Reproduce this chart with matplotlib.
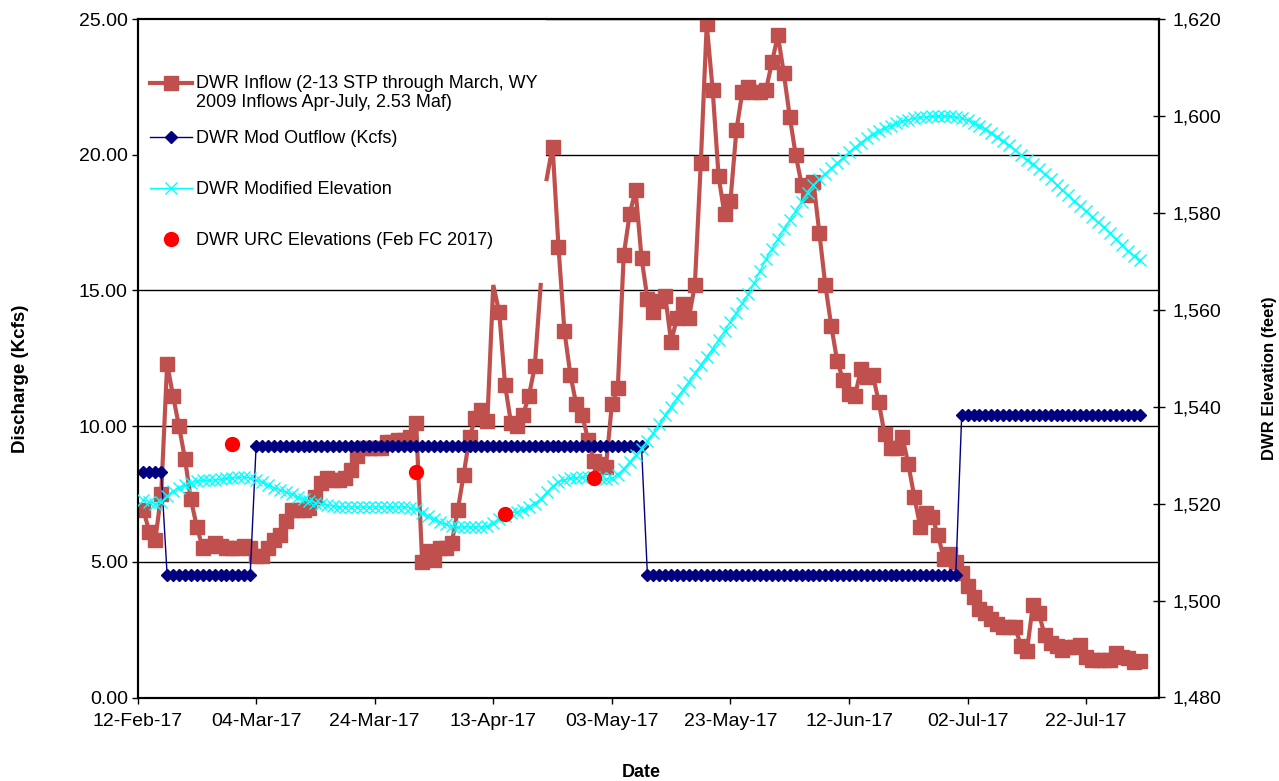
import numpy as np
import pandas as pd
import matplotlib
matplotlib.use('Agg')
import matplotlib.pyplot as plt
import matplotlib.dates as mdates
from matplotlib.ticker import FormatStrFormatter, FuncFormatter, MultipleLocator
from matplotlib.legend_handler import HandlerLine2D
from matplotlib.patches import Rectangle

plt.rcParams['font.family'] = ['Liberation Sans', 'DejaVu Sans']

# ---------------- data ----------------
start_date = '2017-02-13'   # first daily value

inflow = [
    6.9, 6.1, 5.8, 7.5, 12.3, 11.1, 10.0, 8.8, 7.3, 6.3,
    5.5, 5.6, 5.7, 5.6, 5.5, 5.5, 5.5, 5.6, 5.5, 5.2,
    5.2, 5.5, 5.8, 6.0, 6.5, 6.9, 6.9, 6.9, 7.0, 7.4,
    7.9, 8.1, 8.0, 8.0, 8.1, 8.4, 8.9, 9.2, 9.2, 9.2,
    9.2, 9.4, 9.4, 9.5, 9.5, 9.6, 10.1, 5.0, 5.4, 5.05,
    5.5, 5.5, 5.7, 6.9, 8.2, 9.6, 10.3, 10.6, 10.2, 15.2,
    14.2, 11.5, 10.1, 10.0, 10.4, 11.1, 12.2, 15.2, 19.1, 20.3,
    16.6, 13.5, 11.9, 10.8, 10.4, 9.5, 8.7, 8.6, 8.5, 10.8,
    11.4, 16.3, 17.8, 18.7, 16.2, 14.7, 14.2, 14.6, 14.8, 13.1,
    14.0, 14.5, 14.0, 15.2, 19.7, 24.8, 22.4, 19.2, 17.8, 18.3,
    20.9, 22.3, 22.5, 22.3, 22.3, 22.4, 23.4, 24.4, 23.0, 21.4,
    20.0, 18.9, 18.5, 19.0, 17.1, 15.2, 13.7, 12.4, 11.7, 11.2,
    11.1, 12.1, 11.8, 11.9, 10.9, 9.7, 9.2, 9.2, 9.6, 8.6,
    7.4, 6.3, 6.8, 6.65, 6.0, 5.1, 5.3, 5.0, 4.6, 4.1,
    3.7, 3.25, 3.1, 2.9, 2.7, 2.6, 2.6, 2.6, 1.9, 1.7,
    3.4, 3.1, 2.3, 2.0, 1.9, 1.75, 1.85, 1.85, 1.95, 1.5,
    1.4, 1.4, 1.4, 1.4, 1.65, 1.5, 1.45, 1.3, 1.35,
]

outflow = [
    8.3, 8.3, 8.3, 8.3,
    4.5, 4.5, 4.5, 4.5, 4.5, 4.5, 4.5, 4.5, 4.5, 4.5, 4.5, 4.5, 4.5, 4.5, 4.5,
    9.25, 9.25, 9.25, 9.25, 9.25, 9.25, 9.25, 9.25, 9.25, 9.25, 9.25,
    9.25, 9.25, 9.25, 9.25, 9.25, 9.25, 9.25, 9.25, 9.25, 9.25, 9.25,
    9.25, 9.25, 9.25, 9.25, 9.25, 9.25, 9.25, 9.25, 9.25, 9.25, 9.25,
    9.25, 9.25, 9.25, 9.25, 9.25, 9.25, 9.25, 9.25, 9.25, 9.25, 9.25,
    9.25, 9.25, 9.25, 9.25, 9.25, 9.25, 9.25, 9.25, 9.25, 9.25, 9.25,
    9.25, 9.25, 9.25, 9.25, 9.25, 9.25, 9.25, 9.25, 9.25, 9.25, 9.25,
    4.5, 4.5, 4.5, 4.5, 4.5, 4.5, 4.5, 4.5, 4.5, 4.5, 4.5, 4.5, 4.5,
    4.5, 4.5, 4.5, 4.5, 4.5, 4.5, 4.5, 4.5, 4.5, 4.5, 4.5, 4.5, 4.5,
    4.5, 4.5, 4.5, 4.5, 4.5, 4.5, 4.5, 4.5, 4.5, 4.5, 4.5, 4.5, 4.5,
    4.5, 4.5, 4.5, 4.5, 4.5, 4.5, 4.5, 4.5, 4.5, 4.5, 4.5, 4.5, 4.5,
    4.5,
    10.4, 10.4, 10.4, 10.4, 10.4, 10.4, 10.4, 10.4, 10.4, 10.4, 10.4,
    10.4, 10.4, 10.4, 10.4, 10.4, 10.4, 10.4, 10.4, 10.4, 10.4, 10.4,
    10.4, 10.4, 10.4, 10.4, 10.4, 10.4, 10.4, 10.4, 10.4,
]

elevation = [
    1520.7, 1520.4, 1520.0, 1520.4, 1521.6, 1522.6, 1523.3, 1523.8, 1524.3, 1524.6,
    1524.8, 1524.8, 1524.9, 1525.0, 1525.2, 1525.3, 1525.4, 1525.5, 1525.3, 1524.9,
    1524.4, 1523.9, 1523.3, 1522.9, 1522.4, 1521.9, 1521.4, 1520.9, 1520.6, 1520.2,
    1520.0, 1519.7, 1519.5, 1519.4, 1519.3, 1519.3, 1519.3, 1519.3, 1519.3, 1519.3,
    1519.3, 1519.3, 1519.3, 1519.3, 1519.3, 1519.2, 1518.8, 1518.0, 1517.4, 1516.8,
    1516.2, 1515.7, 1515.3, 1515.2, 1515.2, 1515.2, 1515.2, 1515.2, 1515.3, 1516.0,
    1516.9, 1517.5, 1518.0, 1518.3, 1518.7, 1519.3, 1520.0, 1521.0, 1522.3, 1523.6,
    1524.5, 1524.9, 1525.2, 1525.3, 1525.4, 1525.5, 1525.4, 1525.2, 1525.0, 1525.2,
    1526.0, 1527.2, 1528.6, 1530.0, 1531.3, 1532.9, 1534.6, 1536.4, 1538.2, 1540.0,
    1541.8, 1543.5, 1545.2, 1546.9, 1548.6, 1550.3, 1552.0, 1553.8, 1555.6, 1557.5,
    1559.4, 1561.3, 1563.2, 1565.5, 1568.0, 1570.5, 1572.6, 1574.6, 1576.6, 1578.5,
    1580.4, 1582.3, 1584.2, 1585.8, 1587.0, 1588.1, 1589.2, 1590.3, 1591.4, 1592.5,
    1593.5, 1594.5, 1595.4, 1596.2, 1596.9, 1597.5, 1598.0, 1598.5, 1598.9, 1599.2,
    1599.5, 1599.7, 1599.8, 1599.9, 1599.9, 1600.0, 1599.9, 1599.8, 1599.5, 1599.1,
    1598.6, 1598.0, 1597.3, 1596.5, 1595.7, 1594.8, 1593.9, 1593.0, 1592.0, 1591.0,
    1590.0, 1589.0, 1588.0, 1586.9, 1585.8, 1584.7, 1583.6, 1582.5, 1581.4, 1580.3,
    1579.2, 1578.1, 1577.0, 1575.8, 1574.6, 1573.4, 1572.2, 1571.2, 1570.2,
]

urc_dates = ['2017-02-28', '2017-03-31', '2017-04-15', '2017-04-30']
urc_elev = [1532.4, 1526.5, 1517.8, 1525.2]

inflow_break_after = '2017-04-21'                      # line is broken after this day
inflow_unmarked = ['2017-04-13', '2017-04-21', '2017-04-22']  # points drawn without marker

x_start, x_end = '2017-02-12', '2017-08-03 05:00'
x_tick_step_days = 20
x_tick_labels_fmt = '%d-%b-%y'

label_inflow = 'DWR Inflow (2-13 STP through March, WY\n2009 Inflows Apr-July, 2.53 Maf)'
label_outflow = 'DWR Mod Outflow (Kcfs)'
label_elev = 'DWR Modified Elevation'
label_urc = 'DWR URC Elevations (Feb FC 2017)'

# ---------------- styles ----------------
C_INFLOW = '#C0504D'
C_OUTFLOW = '#000080'
C_ELEV = '#00FFFF'
C_URC = '#FF0000'

W, H, DPI = 1279, 781, 100
fig = plt.figure(figsize=(W / DPI, H / DPI), dpi=DPI)
px_l, px_r, px_t, px_b = 137.5, 1158.6, 19.0, 697.5
ax1 = fig.add_axes([px_l / W, 1 - px_b / H, (px_r - px_l) / W, (px_b - px_t) / H])
ax2 = ax1.twinx()

dates = pd.date_range(start_date, periods=len(inflow), freq='D')
inflow_arr = np.array(inflow, dtype=float)
brk = pd.Timestamp(inflow_break_after)
unmarked = pd.to_datetime(inflow_unmarked)

seg_masks = [dates <= brk, dates > brk]
h_in = None
for m in seg_masks:
    d = dates[m]
    v = inflow_arr[m]
    me = [i for i, dd in enumerate(d) if dd not in unmarked]
    ln, = ax1.plot(d, v, color=C_INFLOW, lw=3.0, marker='s', markersize=9.5,
                   markevery=me, markeredgecolor=C_INFLOW, markerfacecolor=C_INFLOW,
                   solid_joinstyle='miter', zorder=2)
    if h_in is None:
        h_in = ln

h_out, = ax1.plot(dates, outflow, color=C_OUTFLOW, lw=1.0, marker='D', markersize=6.0,
                  markeredgecolor=C_OUTFLOW, markerfacecolor=C_OUTFLOW, zorder=3)

h_el, = ax2.plot(dates, elevation, color=C_ELEV, lw=1.0, marker='x', markersize=8,
                 markeredgewidth=1.0, zorder=3)
h_urc, = ax2.plot(pd.to_datetime(urc_dates), urc_elev, linestyle='none', marker='o',
                  markersize=10, color=C_URC, zorder=4)

# ---------------- axes ----------------
ax1.set_xlim(pd.Timestamp(x_start), pd.Timestamp(x_end))
ax1.set_xticks(pd.date_range(x_start, x_end, freq=f'{x_tick_step_days}D'))
ax1.xaxis.set_major_formatter(mdates.DateFormatter(x_tick_labels_fmt))

ax1.set_ylim(0, 25)
ax1.yaxis.set_major_locator(MultipleLocator(5))
ax1.yaxis.set_major_formatter(FormatStrFormatter('%.2f'))
ax2.set_ylim(1480, 1620)
ax2.yaxis.set_major_locator(MultipleLocator(20))
ax2.yaxis.set_major_formatter(FuncFormatter(lambda v, p: f'{v:,.0f}'))

ax1.set_axisbelow(True)
ax1.yaxis.grid(True, color='black', lw=1.0)
ax1.xaxis.grid(False)

for ax in (ax1, ax2):
    for s in ax.spines.values():
        s.set_color('black')
        s.set_linewidth(1.5)

ax1.tick_params(axis='x', direction='out', length=4, width=1.0, labelsize=14, pad=7)
ax1.tick_params(axis='y', direction='out', length=4, width=1.0, labelsize=14, pad=3)
ax2.tick_params(axis='y', direction='inout', length=8, width=1.0, labelsize=14, pad=6)

ax1.set_xlabel('Date', fontsize=13, fontweight='bold')
ax1.xaxis.set_label_coords((641 - px_l) / (px_r - px_l), -(764 - px_b) / (px_b - px_t))
ax1.set_ylabel('Discharge (Kcfs)', fontsize=13.5, fontweight='bold')
ax1.yaxis.set_label_coords((29 - px_l) / (px_r - px_l), 0.47)
ax2.set_ylabel('DWR Elevation (feet)', fontsize=12, fontweight='bold')
ax2.yaxis.set_label_coords((1262 - px_l) / (px_r - px_l), 0.47)

# legend background (hides gridlines under the legend)
bg = Rectangle((0, (px_b - 275) / (px_b - px_t)), (546 - px_l) / (px_r - px_l), 1.0,
               transform=ax1.transAxes, facecolor='white', edgecolor='none', zorder=1.5)
ax1.add_patch(bg)


class RaisedLineHandler(HandlerLine2D):
    def __init__(self, dy, **kw):
        super().__init__(**kw)
        self.dy = dy

    def create_artists(self, legend, orig_handle, xdescent, ydescent, width, height,
                       fontsize, trans):
        arts = super().create_artists(legend, orig_handle, xdescent, ydescent, width,
                                      height, fontsize, trans)
        for a in arts:
            a.set_ydata(np.asarray(a.get_ydata()) + self.dy)
        return arts


leg_fs = 13
common = dict(frameon=False, fontsize=leg_fs, handlelength=2.3, handletextpad=0.25,
              borderpad=0, borderaxespad=0, numpoints=1, loc='center left',
              bbox_transform=fig.transFigure)
legA = ax2.legend([h_in], [label_inflow], bbox_to_anchor=(150 / W, 1 - 93 / H),
                  handler_map={h_in: RaisedLineHandler(7.5)}, **common)
ax2.add_artist(legA)
legB = ax2.legend([h_out, h_el, h_urc], [label_outflow, label_elev, label_urc],
                  bbox_to_anchor=(150 / W, 1 - 189.5 / H), labelspacing=1.88, **common)

fig.savefig('out.png', dpi=DPI)
